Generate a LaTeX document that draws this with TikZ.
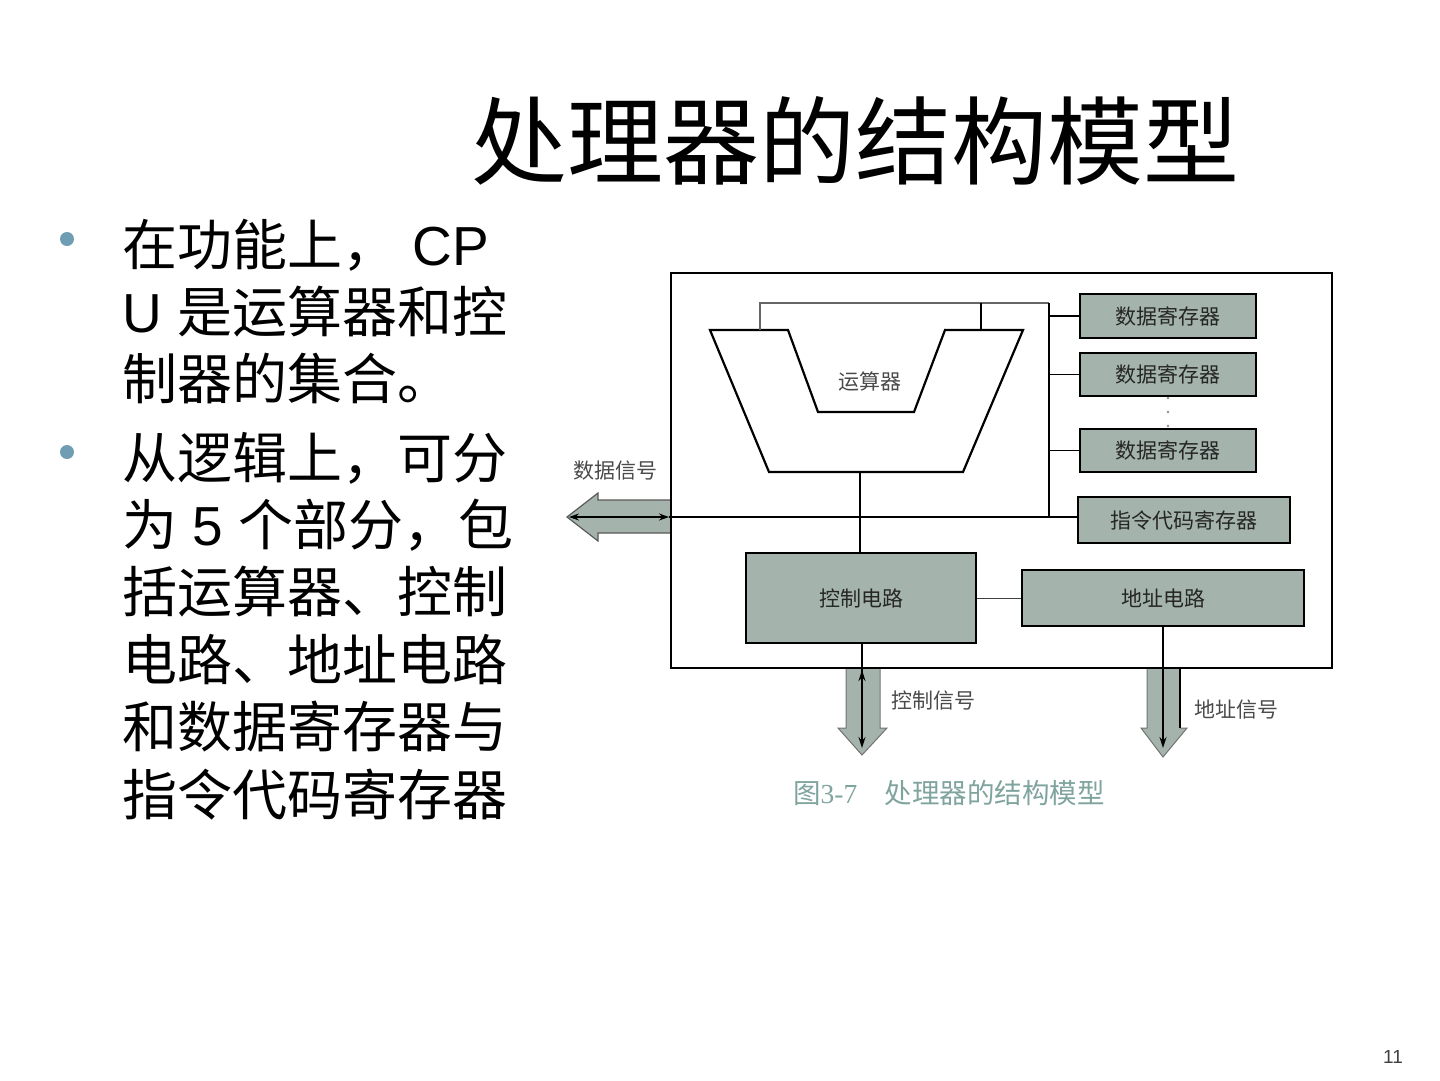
\documentclass[tikz,border=0pt]{standalone}
\usepackage{fontspec}
\setmainfont{Liberation Sans}
\newfontfamily\cjk{Noto Sans CJK SC}
\newfontfamily\capserif{Liberation Serif}
\usetikzlibrary{arrows.meta}
\definecolor{boxfill}{HTML}{A4B4AD}
\definecolor{bulletc}{HTML}{6F9DB3}
\definecolor{capc}{HTML}{7FA39D}
\definecolor{lblc}{HTML}{4A4A4A}
\begin{document}
\begin{tikzpicture}[x=1pt,y=-1pt,
  reg/.style={draw=black,line width=2.2pt,fill=boxfill,inner sep=0pt,font=\cjk\fontsize{21}{25}\selectfont,text=black!85},
  lbl/.style={inner sep=0pt,font=\cjk\fontsize{21}{25}\selectfont,text=lblc},
  bodytext/.style={inner sep=0pt,anchor=west,font=\fontsize{55}{64}\selectfont},
  wire/.style={line width=1.4pt},
  thinwire/.style={line width=1pt,draw=black!75},
  tipped/.style={line width=1.3pt,-{Stealth[length=11pt,width=7pt]}},
  bigarrow/.style={fill=boxfill,draw=black!65,line width=1.2pt},
  bulletdot/.style={fill=bulletc}
]
\useasboundingbox (0,0) rectangle (1440,1080);

% title
\node[anchor=base,inner sep=0pt,font=\cjk\fontsize{96}{110}\selectfont] (title) at (855,177) {处理器的结构模型};

% bullets
\fill[bulletdot] (67,239) circle (7pt);
\fill[bulletdot] (67,452) circle (7pt);

\node[bodytext] (l1) at (122,245) {{\cjk 在功能上，} CP};
\node[bodytext] (l2) at (122,312) {U {\cjk 是运算器和控}};
\node[bodytext] (l3) at (122,378) {{\cjk 制器的集合。}};
\node[bodytext] (l4) at (122,458) {{\cjk 从逻辑上，可分}};
\node[bodytext] (l5) at (122,525) {{\cjk 为} 5 {\cjk 个部分，包}};
\node[bodytext] (l6) at (122,592) {{\cjk 括运算器、控制}};
\node[bodytext] (l7) at (122,660) {{\cjk 电路、地址电路}};
\node[bodytext] (l8) at (122,727) {{\cjk 和数据寄存器与}};
\node[bodytext] (l9) at (122,795) {{\cjk 指令代码寄存器}};

% page number
\node[inner sep=0pt,font=\fontsize{19}{22}\selectfont,text=black!75] (pg) at (1393,1057) {11};

% ---------------- diagram ----------------
% big data arrow (left)
\draw[bigarrow] (670,500) -- (598,500) -- (598,493) -- (567,517) -- (598,541) -- (598,533) -- (670,533);
% control signal arrow
\fill[boxfill] (846,668) -- (846,728) -- (838,728) -- (862,755) -- (887,728) -- (880,728) -- (880,668) -- cycle;
\draw[draw=black!55,line width=1pt] (846,668) -- (846,728) -- (838,728) -- (862,755) -- (887,728) -- (880,728) -- (880,668);
% address signal arrow
\fill[boxfill] (1147,668) -- (1147,728) -- (1141,728) -- (1163,757) -- (1187,728) -- (1180,728) -- (1180,668) -- cycle;
\draw[draw=black!55,line width=1pt] (1147,668) -- (1147,728) -- (1141,728) -- (1163,757) -- (1187,728) -- (1180,728);
\draw[line width=1.6pt] (1180,668) -- (1180,728);

% outer frame
\draw[line width=1.6pt] (671,273) rectangle (1332,668);

% ALU
\draw[line width=2.2pt,line join=miter] (710,330) -- (788,330) -- (818,412) -- (914,412) -- (945,330) -- (1023,330) -- (963,472) -- (769,472) -- cycle;
\node[lbl] (alu) at (870,381) {运算器};
\coordinate (aluTL) at (760,330);
\coordinate (aluTR) at (981,330);
\coordinate (aluB) at (860,472);

% registers
\node[reg,minimum width=176pt,minimum height=44pt] (r1) at (1168,316) {数据寄存器};
\node[reg,minimum width=176pt,minimum height=43pt] (r2) at (1168,374.5) {数据寄存器};
\node[reg,minimum width=176pt,minimum height=43pt] (r3) at (1168,450.5) {数据寄存器};
\node[reg,minimum width=212pt,minimum height=46pt] (ir) at (1184,520) {指令代码寄存器};
\fill[black!45] (1168,398) circle (1.3pt) (1168,412) circle (1.3pt) (1168,426) circle (1.3pt);

% control & address circuits
\node[reg,minimum width=230pt,minimum height=90pt] (cc) at (861,598) {控制电路};
\node[reg,minimum width=282pt,minimum height=56pt] (ac) at (1163,598) {地址电路};

% wiring
\coordinate (busTop) at (1049,303);
\coordinate (busBot) at (1049,517);
\draw[wire,draw=black!60] (aluTL) -- (aluTL |- busTop) -- (busTop);
\draw[wire] (aluTR) -- (aluTR |- busTop);
\draw[wire] (busTop) -- (busBot);
\draw[wire] (r1.west -| busTop) -- (r1.west);
\draw[wire] (r2.west -| busTop) -- (r2.west);
\draw[wire] (r3.west -| busTop) -- (r3.west);
\draw[wire] (aluB) -- (aluB |- cc.north);
\draw[thinwire] (cc.east) -- (ac.west);

% data bus
\coordinate (dL) at (569,517);
\coordinate (dR) at (669,517);
\draw[wire] (dR) -- (ir.west |- dR);
\draw[line width=1.3pt,{Stealth[length=10pt,width=7pt]}-{Stealth[length=10pt,width=7pt]}] (dL) -- (dR);

% control signal thin arrows
\coordinate (cTip) at (862,748);
\coordinate (cUp) at (862,670);
\draw[tipped] (cc.south -| cTip) -- (cTip);
\draw[tipped] (862,700) -- (cUp);
% address signal thin arrow
\coordinate (aTip) at (1163,748);
\draw[tipped] (ac.south) -- (aTip);

% labels
\node[lbl] (dsig) at (615,471) {数据信号};
\node[lbl] (csig) at (933,701) {控制信号};
\node[lbl] (asig) at (1236,710) {地址信号};

% caption
\node[anchor=west,inner sep=0pt,text=capc,font=\cjk\fontsize{27.5}{31}\selectfont] (cap) at (793,793) {图{\capserif 3-7}　处理器的结构模型};
\end{tikzpicture}
\end{document}
